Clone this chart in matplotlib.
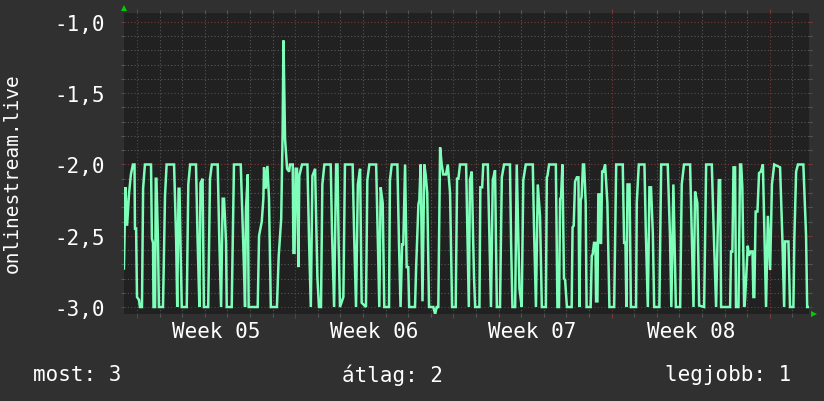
#!/usr/bin/env python3
"""RRD-stílusú grafikon: onlinestream.live értékek négy hétre."""

import matplotlib
matplotlib.use("Agg")
import matplotlib.pyplot as plt
from matplotlib.transforms import blended_transform_factory

# idő napokban a Week 05 hétfőjétől
days = [
    -0.58, -0.51, -0.44, -0.35, -0.27, -0.18, -0.11, -0.09, -0.04, 0.00,
    0.09, 0.13, 0.22, 0.27, 0.35, 0.62, 0.66, 0.71, 0.73, 0.80,
    0.83, 0.86, 0.93, 0.97, 1.15, 1.24, 1.31, 1.64, 1.73, 1.78,
    1.84, 1.88, 1.92, 1.98, 2.20, 2.27, 2.35, 2.61, 2.68, 2.76,
    2.81, 2.90, 2.93, 2.96, 3.15, 3.23, 3.31, 3.57, 3.64, 3.72,
    3.79, 3.85, 3.89, 3.94, 3.97, 4.19, 4.29, 4.59, 4.70, 4.78,
    4.82, 4.90, 4.94, 5.34, 5.40, 5.52, 5.59, 5.62, 5.69, 5.77,
    5.84, 5.92, 6.19, 6.27, 6.38, 6.44, 6.48, 6.55, 6.64, 6.73,
    # Week 06
    6.77, 6.89, 6.92, 6.97, 7.02, 7.08, 7.14, 7.18, 7.30, 7.54,
    7.61, 7.69, 7.76, 7.88, 7.98, 8.05, 8.14, 8.20, 8.29, 8.57,
    8.63, 8.72, 8.81, 8.87, 8.92, 8.98, 9.13, 9.20, 9.54, 9.61,
    9.69, 9.77, 9.87, 9.94, 10.13, 10.19, 10.28, 10.58, 10.65, 10.72,
    10.78, 10.87, 10.94,
    11.15, 11.19, 11.27, 11.52, 11.59, 11.66, 11.73, 11.78, 11.86, 11.93,
    12.00, 12.04, 12.30, 12.35, 12.45, 12.49, 12.55, 12.63, 12.71, 12.77,
    12.84, 12.92, 13.11, 13.19, 13.26, 13.33, 13.41, 13.48, 13.55, 13.67,
    13.75, 13.85, 13.94, 14.10, 14.16, 14.22, 14.29, 14.56, 14.62, 14.68,
    # Week 07
    14.73, 14.81, 14.87, 14.91, 14.96, 15.15, 15.19, 15.27, 15.32,
    15.52, 15.59, 15.66, 15.74, 15.84, 15.92, 16.06, 16.14, 16.24, 16.50,
    16.55, 16.61, 16.73, 16.80, 16.92, 17.02, 17.09, 17.20, 17.51, 17.57,
    17.65, 17.73,
    17.83, 17.91, 18.09, 18.13, 18.16, 18.23, 18.53, 18.60, 18.67, 18.72,
    18.76, 18.82, 18.89, 18.94, 19.02, 19.23, 19.27, 19.32, 19.38, 19.46,
    19.53, 19.57, 19.63, 19.67, 19.73, 19.78, 19.85, 19.89, 20.07, 20.12,
    20.16, 20.22, 20.28, 20.31, 20.37, 20.41, 20.49, 20.51, 20.53, 20.58,
    20.63, 20.71, 20.81, 20.90, 21.11, 21.20, 21.49, 21.55, 21.61, 21.65,
    # Week 08
    21.70, 21.79, 21.85, 22.08, 22.11, 22.20,
    22.45, 22.51, 22.60, 22.67, 22.74, 22.82, 22.88, 23.11, 23.19, 23.48,
    23.58, 23.64, 23.73, 23.84, 24.03, 24.10, 24.20, 24.47, 24.55, 24.62,
    24.69, 24.79, 24.87, 25.09, 25.18, 25.43, 25.53, 25.62, 25.74, 25.80,
    25.84, 26.24, 26.28, 26.34, 26.39, 26.46, 26.50, 26.61, 26.68, 26.73,
    26.78, 26.86, 26.90, 27.02, 27.07, 27.15, 27.23, 27.27, 27.31, 27.37,
    27.45, 27.52, 27.60, 27.69, 27.76, 27.83, 27.91, 28.01, 28.09, 28.19,
    28.45, 28.55, 28.63, 28.67, 28.82, 28.89, 29.04, 29.08, 29.16, 29.24,
    29.48, 29.60, 29.65, 29.78,
]
values = [
    -2.73, -2.16, -2.43, -2.20, -2.07, -2.00, -2.00, -2.45, -2.45, -2.93,
    -2.95, -3.00, -3.00, -2.17, -2.00, -2.00, -2.52, -2.55, -3.00, -3.00,
    -2.10, -2.10, -2.55, -3.00, -3.00, -2.22, -2.00, -2.00, -2.52, -3.00,
    -2.17, -2.17, -2.52, -3.00, -3.00, -2.14, -2.00, -2.00, -2.52, -3.00,
    -2.13, -2.10, -2.52, -3.00, -3.00, -2.10, -2.00, -2.00, -2.52, -3.00,
    -2.24, -2.24, -2.37, -2.55, -3.00, -3.00, -2.00, -2.00, -2.55, -3.00,
    -2.32, -2.07, -3.00, -3.00, -2.50, -2.40, -2.24, -2.02, -2.17, -2.01,
    -2.24, -3.00, -3.00, -2.64, -2.38, -1.80, -1.13, -1.82, -2.03, -2.05,
    # Week 06
    -2.00, -2.00, -2.62, -2.62, -2.03, -2.03, -2.72, -2.08, -2.00, -2.00,
    -2.52, -3.00, -2.08, -2.03, -2.79, -3.00, -3.00, -2.14, -2.00, -2.00,
    -2.49, -3.00, -2.00, -2.00, -2.55, -3.00, -2.93, -2.00, -2.00, -2.52,
    -3.00, -2.14, -2.03, -2.97, -3.00, -2.11, -2.00, -2.00, -2.50, -3.00,
    -2.16, -2.27, -3.00,
    -3.00, -2.11, -2.00, -2.00, -2.55, -3.00, -2.56, -2.56, -2.00, -2.72,
    -2.72, -3.00, -3.00, -2.72, -2.28, -2.25, -2.00, -2.96, -2.00, -2.07,
    -2.20, -3.00, -3.00, -3.05, -3.00, -3.00, -1.88, -2.00, -2.07, -2.07,
    -2.00, -2.20, -3.00, -3.00, -2.10, -2.10, -2.00, -2.00, -2.52, -3.00,
    # Week 07
    -2.11, -2.05, -2.52, -2.79, -3.00, -3.00, -2.16, -2.16, -2.00,
    -2.00, -2.50, -3.00, -2.11, -2.04, -3.00, -3.00, -2.09, -2.00, -2.00,
    -2.55, -3.00, -3.00, -2.00, -2.87, -3.00, -2.11, -2.00, -2.00, -2.49,
    -3.00, -2.14,
    -2.36, -3.00, -3.00, -2.09, -2.08, -2.00, -2.00, -3.00, -3.00, -2.24,
    -2.23, -2.00, -2.80, -2.81, -3.00, -3.00, -2.44, -2.43, -2.12, -2.09,
    -2.09, -3.00, -2.25, -2.23, -2.00, -2.00, -2.27, -3.00, -3.00, -2.64,
    -2.63, -2.55, -2.55, -2.96, -2.96, -2.21, -2.21, -2.55, -2.55, -2.05,
    -2.05, -2.00, -2.27, -3.00, -3.00, -2.00, -2.00, -2.55, -2.55, -3.00,
    # Week 08
    -2.14, -2.14, -3.00, -3.00, -2.27, -2.00,
    -2.00, -2.47, -3.00, -2.16, -2.16, -2.48, -3.00, -3.00, -2.00, -2.00,
    -2.50, -3.00, -2.14, -3.00, -3.00, -2.14, -2.00, -2.00, -2.52, -3.00,
    -2.19, -2.27, -2.99, -3.00, -2.00, -2.00, -2.55, -3.00, -2.11, -2.11,
    -3.00, -3.00, -2.61, -2.61, -2.02, -2.02, -3.00, -3.00, -2.00, -2.00,
    -2.16, -3.00, -2.95, -2.57, -2.64, -2.61, -2.61, -2.93, -2.93, -2.33,
    -2.33, -2.06, -2.05, -2.00, -2.51, -3.00, -2.36, -2.74, -2.14, -2.00,
    -2.02, -2.51, -3.00, -2.54, -2.54, -3.00, -3.00, -2.53, -2.05, -2.00,
    -2.00, -2.50, -3.00, -3.00,
]

week_starts = [0, 7, 14, 21, 28]
week_labels = ["Week 05", "Week 06", "Week 07", "Week 08"]
y_ticks = [-3.0, -2.5, -2.0, -1.5, -1.0]

legend_items = ["most: 3", "átlag: 2", "legjobb: 1"]
y_label = "onlinestream.live"

BG = "#303030"
PLOT_BG = "#212121"
LINE = "#7dffb9"
MINOR_GRID = "#575757"
MAJOR_GRID = "#7a3838"
TEXT = "#ffffff"
MONO = "DejaVu Sans Mono"


def main() -> None:
    assert len(days) == len(values)
    fig = plt.figure(figsize=(8.24, 4.02), dpi=100, facecolor=BG)
    ax = fig.add_axes([124 / 824, 1 - 315 / 402, 685 / 824, 301 / 402])
    ax.set_facecolor(PLOT_BG)

    ax.plot(days, values, color=LINE, lw=1.8, solid_joinstyle="miter", zorder=3)

    ax.set_xlim(-0.575, 29.73)
    ax.set_ylim(-3.049, -0.937)

    # rács: napi / heti és 0,1 / 0,5 lépés
    ax.set_xticks(week_starts)
    ax.set_xticks([d for d in range(0, 30) if d not in week_starts], minor=True)
    ax.set_xticklabels([])
    ax.set_yticks(y_ticks)
    ax.set_yticks([v / 10 for v in range(-30, -9) if v % 5 != 0], minor=True)
    ax.set_yticklabels([f"{t:.1f}".replace(".", ",") for t in y_ticks],
                       family=MONO, fontsize=15, color=TEXT)

    ax.grid(which="minor", color=MINOR_GRID, linestyle=(0, (1, 2)), lw=0.8, zorder=1)
    ax.grid(which="major", color=MAJOR_GRID, linestyle=(0, (1, 2)), lw=0.8, zorder=1)
    ax.set_axisbelow(True)

    ax.tick_params(which="major", axis="x", colors=MAJOR_GRID, length=3, width=0.8,
                   top=True, bottom=True, direction="out")
    ax.tick_params(which="minor", axis="x", colors=MINOR_GRID, length=2, width=0.8,
                   top=True, bottom=True, direction="out")
    ax.tick_params(which="major", axis="y", colors=MAJOR_GRID, length=2, width=0.8,
                   labelcolor=TEXT, pad=12, left=True, right=True)
    ax.tick_params(which="minor", axis="y", colors=MINOR_GRID, length=2, width=0.8,
                   left=True, right=True)
    for spine in ax.spines.values():
        spine.set_visible(False)

    trans = blended_transform_factory(ax.transData, ax.transAxes)
    for start, label in zip(week_starts, week_labels):
        ax.text(start + 3.5, -0.055, label, transform=trans, ha="center", va="center",
                family=MONO, fontsize=15, color=TEXT)

    # tengely nyilak
    ax.plot([0], [1.015], marker="^", color="#00cc00", ms=5, mew=0,
            transform=ax.transAxes, clip_on=False)
    ax.plot([1.007], [0.0], marker=">", color="#00cc00", ms=5, mew=0,
            transform=ax.transAxes, clip_on=False)

    fig.text(12 / 824, 1 - 173 / 402, y_label, rotation=90, ha="center", va="center",
             family=MONO, fontsize=14, color=TEXT)

    for xpos, ha, item in zip([33 / 824, 393 / 824, 791 / 824],
                              ["left", "center", "right"], legend_items):
        fig.text(xpos, 1 - 375 / 402, item, ha=ha, va="center",
                 family=MONO, fontsize=15, color=TEXT)

    fig.savefig("out.png", dpi=100, facecolor=BG)
    plt.close(fig)


if __name__ == "__main__":
    main()
